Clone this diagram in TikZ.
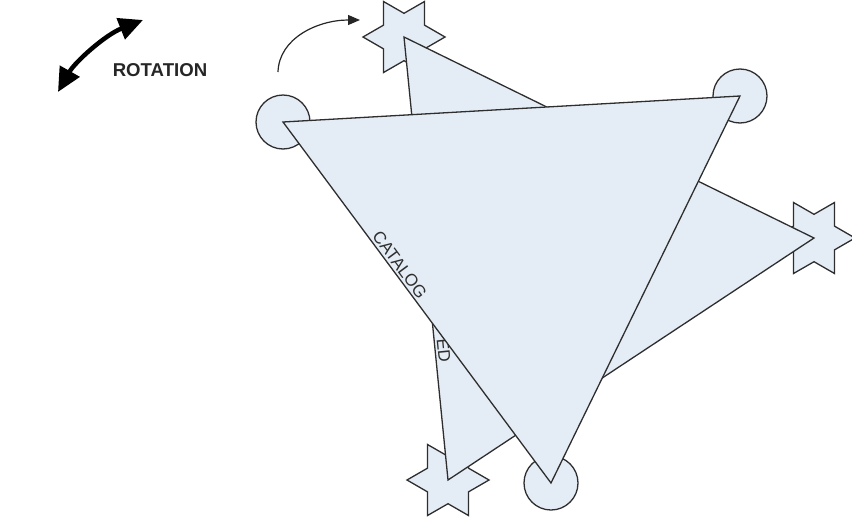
\documentclass[tikz,border=0pt]{standalone}
\usepackage{fontspec}
\setmainfont{Liberation Sans}
\usepackage{tikz}
\usetikzlibrary{arrows.meta,shapes.geometric}
\definecolor{ink}{HTML}{2E2E2E}
\definecolor{pale}{HTML}{E4ECF5}

\begin{document}
\begin{tikzpicture}[x=1pt,y=-1pt,line width=1.3pt,
  hexstar/.style={star,star points=6,star point ratio=1.73,shape border rotate=30,minimum size=82pt,inner sep=0pt,fill=pale,draw=ink},
  knob/.style={circle,minimum size=54pt,inner sep=0pt,fill=pale,draw=ink},
  edgelabel/.style={font=\fontsize{17}{20}\selectfont,text=ink,sloped,above,inner sep=2pt}]
\useasboundingbox (0,0) rectangle (852,517);
% back triangle with star corners
\node[hexstar] (sa) at (404,37) {};
\node[hexstar] (sb) at (814,238) {};
\node[hexstar] (sc) at (448,480) {};
\filldraw[fill=pale,draw=ink,line join=miter] (sa.center) -- (sb.center) -- (sc.center) -- cycle;
\path (sa.center) -- (sc.center) node[edgelabel,pos=0.71] (back) {ED};
% front triangle with round corners
\node[knob] (ca) at (283,122) {};
\node[knob] (cb) at (740,96) {};
\node[knob] (cc) at (551,483) {};
\filldraw[fill=pale,draw=ink,line join=miter] (ca.center) -- (cb.center) -- (cc.center) -- cycle;
\path (ca.center) -- (cc.center) node[edgelabel,pos=0.41] (front) {CATALOG};
% rotation marks
\coordinate (rl) at (58,92); \coordinate (rr) at (143,20);
\draw[line width=4.5pt,{Triangle[length=24pt,width=22pt]}-{Triangle[length=24pt,width=22pt]}] (rl) .. controls (75,62) and (105,35) .. (rr);
\node[font=\fontsize{18.6}{22}\selectfont\bfseries,text=black!85] (rot) at (160,70) {ROTATION};
\coordinate (turnA) at (278,72); \coordinate (turnB) at (360,20);
\draw[line width=1.2pt,black!85,-{Triangle[length=12pt,width=10pt]}] (turnA) .. controls (279,38) and (318,20) .. (turnB);
\end{tikzpicture}
\end{document}
